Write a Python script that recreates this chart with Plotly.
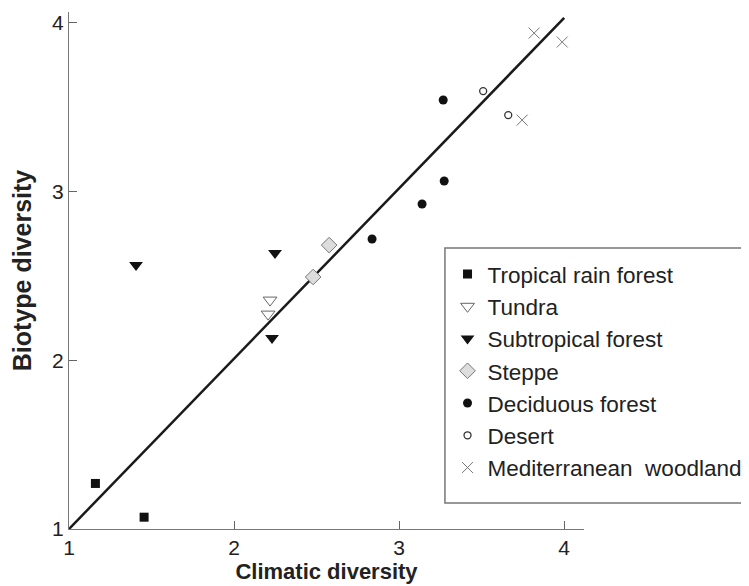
import plotly.graph_objects as go

# ---- data ----
tropical_x = [1.16, 1.455]
tropical_y = [1.27, 1.07]
tundra_x = [2.218, 2.206]
tundra_y = [2.357, 2.274]
subtrop_x = [1.406, 2.248, 2.230]
subtrop_y = [2.565, 2.636, 2.132]
steppe_x = [2.576, 2.479]
steppe_y = [2.683, 2.494]
decid_x = [3.267, 3.273, 3.139, 2.836]
decid_y = [3.543, 3.063, 2.927, 2.719]
desert_x = [3.509, 3.661]
desert_y = [3.596, 3.454]
medit_x = [3.818, 3.988, 3.745]
medit_y = [3.940, 3.887, 3.424]
fit_x = [1.0, 4.0]
fit_y = [1.0, 4.03]
tick_vals = [1, 2, 3, 4]
tick_text = ["1", "2", "3", "4"]

SANS = "Liberation Sans, Arial, sans-serif"

fig = go.Figure()
fig.add_trace(go.Scatter(x=fit_x, y=fit_y, mode="lines", showlegend=False,
                         line=dict(color="#1a1a1a", width=2.5), hoverinfo="skip"))

series = [
    ("Tropical rain forest", tropical_x, tropical_y,
     dict(symbol="square", size=9, color="#111111", line=dict(width=0))),
    ("Tundra", tundra_x, tundra_y,
     dict(symbol="triangle-down", size=12, color="white", line=dict(color="#666666", width=1))),
    ("Subtropical forest", subtrop_x, subtrop_y,
     dict(symbol="triangle-down", size=12, color="#111111", line=dict(width=0))),
    ("Steppe", steppe_x, steppe_y,
     dict(symbol="diamond", size=12, color="#dddddd", line=dict(color="#777777", width=1))),
    ("Deciduous forest", decid_x, decid_y,
     dict(symbol="circle", size=9, color="#111111", line=dict(width=0))),
    ("Desert", desert_x, desert_y,
     dict(symbol="circle", size=7, color="white", line=dict(color="#333333", width=1.3))),
    ("Mediterranean  woodland", medit_x, medit_y,
     dict(symbol="x-thin-open", size=11, color="#777777", line=dict(color="#777777", width=1))),
]
for name, xs, ys, mk in series:
    fig.add_trace(go.Scatter(x=xs, y=ys, mode="markers", name=name, marker=mk))

fig.add_shape(type="rect", xref="paper", yref="paper",
              x0=0.730, x1=1.34, y0=0.0503, y1=0.5435,
              line=dict(color="#777777", width=1.5), fillcolor="rgba(0,0,0,0)")

fig.update_layout(
    width=741, height=578,
    margin=dict(l=61, r=165, t=4, b=57, autoexpand=False),
    plot_bgcolor="white", paper_bgcolor="white",
    font=dict(family=SANS, size=21, color="#222222"),
    legend=dict(x=0.735, y=0.534, xanchor="left", yanchor="top",
                bgcolor="rgba(0,0,0,0)", borderwidth=0,
                font=dict(family=SANS, size=22.5, color="#222222"),
                tracegroupgap=0),
    xaxis=dict(range=[1.0, 4.12], tickvals=tick_vals, ticktext=tick_text,
               showgrid=False, zeroline=False, showline=True, automargin=False,
               linecolor="#777777", linewidth=1.2,
               ticks="inside", ticklen=8, tickcolor="#666666",
               tickfont=dict(family=SANS, size=21, color="#222222"),
               title=dict(text="<b>Climatic diversity</b>", standoff=2,
                          font=dict(family=SANS, size=22, color="#222222"))),
    yaxis=dict(range=[1.0, 4.065], tickvals=tick_vals, ticktext=tick_text,
               showgrid=False, zeroline=False, showline=True, automargin=False,
               linecolor="#777777", linewidth=1.2,
               ticks="inside", ticklen=8, tickcolor="#666666",
               tickfont=dict(family=SANS, size=21, color="#222222"),
               title=dict(text="<b>Biotype diversity</b>", standoff=26,
                          font=dict(family=SANS, size=25, color="#222222"))),
)

fig.write_html("out.html")
